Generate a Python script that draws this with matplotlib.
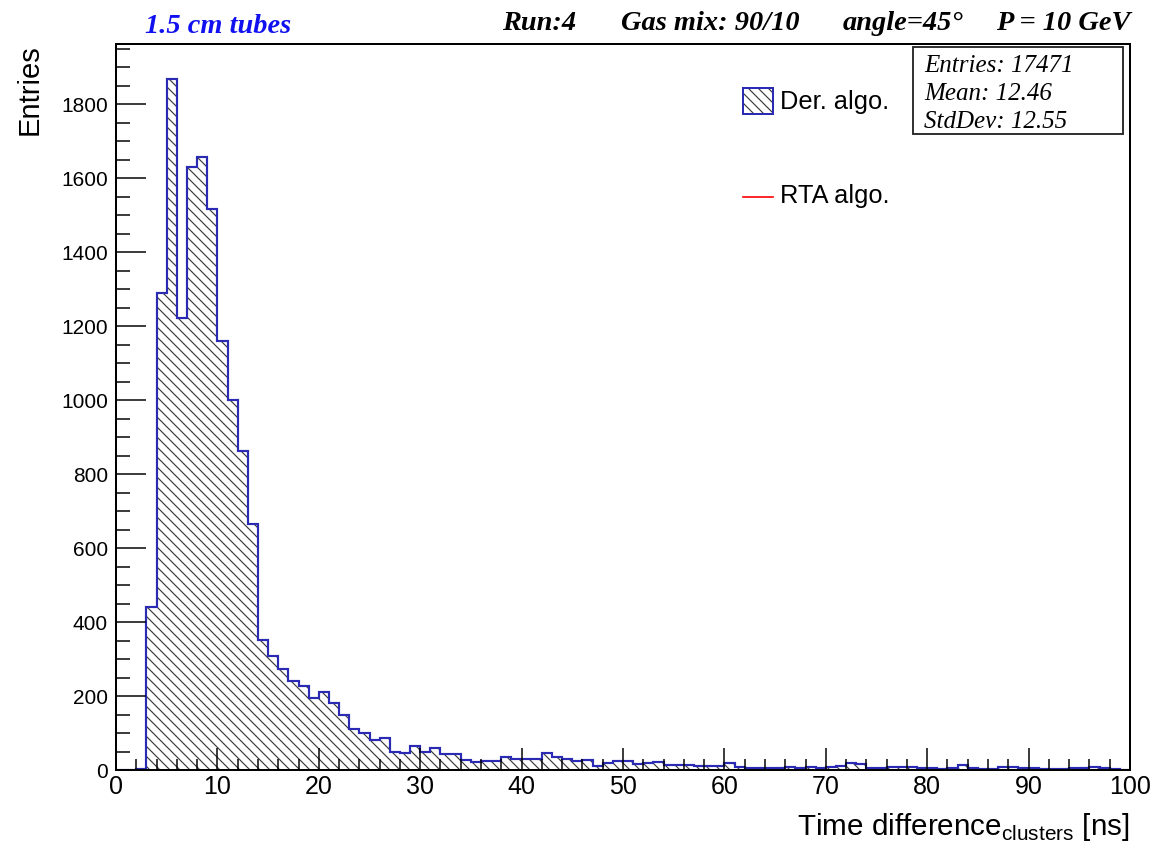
import matplotlib
matplotlib.use("Agg")
import matplotlib.pyplot as plt
import numpy as np
from matplotlib.patches import Rectangle
from matplotlib.lines import Line2D
from matplotlib.ticker import MultipleLocator

# ---------------- data ----------------
bin_edges = list(range(0, 101))
der_counts = [0, 0, 3, 440, 1290, 1870, 1222, 1630, 1659, 1516,
              1160, 1000, 863, 665, 351, 308, 273, 241, 228, 196,
              210, 182, 150, 111, 99, 81, 86, 50, 47, 65,
              50, 60, 43, 43, 27, 21, 23, 23, 36, 29,
              29, 29, 45, 36, 30, 25, 27, 11, 20, 25,
              25, 15, 20, 22, 13, 13, 13, 10, 10, 10,
              20, 9, 6, 6, 6, 6, 9, 5, 9, 5,
              9, 12, 19, 16, 5, 5, 7, 9, 7, 5,
              5, 3, 5, 14, 5, 3, 3, 7, 9, 5,
              5, 3, 3, 3, 5, 5, 9, 6, 3, 1]
x_ticks = [0, 10, 20, 30, 40, 50, 60, 70, 80, 90, 100]
y_ticks = [0, 200, 400, 600, 800, 1000, 1200, 1400, 1600, 1800]
stats_lines = ["Entries: 17471", "Mean: 12.46", "StdDev: 12.55"]
legend_labels = ["Der. algo.", "RTA algo."]
title_left = "1.5 cm tubes"
title_parts = ["Run:4", "Gas mix: 90/10", "angle=45°", "P = 10 GeV"]

# ---------------- figure ----------------
W, H, DPI = 1153, 852, 120
plt.rcParams['hatch.linewidth'] = 0.7
fig = plt.figure(figsize=(W / DPI, H / DPI), dpi=DPI)

def fx(px):
    return px / W

def fy(py):
    return 1 - py / H

ax = fig.add_axes([fx(116), fy(770), fx(1130) - fx(116), fy(44) - fy(770)])

blue = '#2a2ab4'
hatch = '\\\\\\\\'
ax.stairs(der_counts, bin_edges, fill=True, facecolor='none',
          edgecolor='#3a3a3a', hatch=hatch, linewidth=0)
ax.stairs(der_counts, bin_edges, color=blue, linewidth=1.3)

ax.set_xlim(0, 100)
ax.set_ylim(0, 1.05 * max(der_counts))
ax.set_xticks(x_ticks)
ax.set_yticks(y_ticks)
ax.xaxis.set_minor_locator(MultipleLocator(2))
ax.yaxis.set_minor_locator(MultipleLocator(50))

sans = ['Liberation Sans', 'DejaVu Sans']
serif = ['Liberation Serif', 'DejaVu Serif']

ax.tick_params(axis='x', which='major', direction='in', length=13, width=0.9,
               labelsize=15, pad=3, top=False)
ax.tick_params(axis='x', which='minor', direction='in', length=6.5, width=0.9, top=False)
ax.tick_params(axis='y', which='major', direction='in', length=18, width=0.9,
               labelsize=12.5, pad=4.8, right=False)
ax.tick_params(axis='y', which='minor', direction='in', length=8.5, width=0.9, right=False)
for lab in ax.get_xticklabels() + ax.get_yticklabels():
    lab.set_family(sans)
for sp in ax.spines.values():
    sp.set_linewidth(1.2)

# axis titles
fig.text(fx(30), fy(44), "Entries", rotation=90, ha='center', va='top',
         fontsize=17.5, family=sans)
fig.text(fx(1130), fy(835), r"Time difference$_{\mathregular{clusters}}$ [ns]",
         ha='right', va='baseline', fontsize=17.8, family=sans)

# titles
fig.text(fx(145), fy(33), title_left, ha='left', va='baseline', fontsize=17,
         family=serif, style='italic', weight='bold', color='#1010f0')
title_pos = [(502, 'left'), (621, 'left'), (843, 'left'), (1130, 'right')]
for t, (xp, ha) in zip(title_parts, title_pos):
    fig.text(fx(xp), fy(30), t, ha=ha, va='baseline', fontsize=17,
             family=serif, style='italic', weight='bold', color='black')

# stats box
fig.add_artist(Rectangle((fx(913), fy(134)), fx(1123) - fx(913), fy(47) - fy(134),
                         transform=fig.transFigure, facecolor='white',
                         edgecolor='#222222', linewidth=1.1))
for i, s in enumerate(stats_lines):
    fig.text(fx(924), fy(72 + 28 * i), s, ha='left', va='baseline', fontsize=15,
             family=serif, style='italic')

# legend
fig.add_artist(Rectangle((fx(743), fy(114)), fx(773) - fx(743), fy(88) - fy(114),
                         transform=fig.transFigure, facecolor='none',
                         edgecolor='#3a3a3a', hatch=hatch, linewidth=0))
fig.add_artist(Rectangle((fx(743), fy(114)), fx(773) - fx(743), fy(88) - fy(114),
                         transform=fig.transFigure, facecolor='none',
                         edgecolor=blue, linewidth=1.2))
fig.text(fx(780), fy(109), legend_labels[0], ha='left', va='baseline',
         fontsize=15.2, family=sans)
fig.add_artist(Line2D([fx(743), fx(773)], [fy(197), fy(197)],
                      transform=fig.transFigure, color='red', linewidth=1.0))
fig.text(fx(780), fy(203), legend_labels[1], ha='left', va='baseline',
         fontsize=15.2, family=sans)

fig.savefig("out.png", dpi=DPI)
